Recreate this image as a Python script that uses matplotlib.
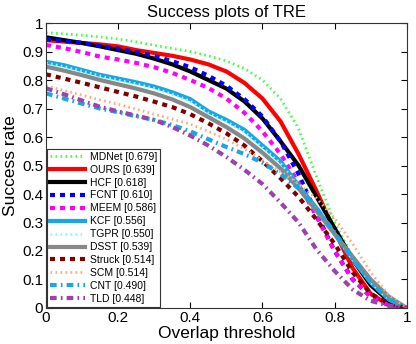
import matplotlib.pyplot as plt
import numpy as np

plt.rcParams["font.family"] = ["Liberation Sans", "DejaVu Sans"]

thresholds = np.linspace(0, 1, 21)

mdnet = [0.966, 0.962, 0.957, 0.951, 0.944, 0.934, 0.922, 0.911, 0.900, 0.885, 0.867,
         0.840, 0.800, 0.735, 0.630, 0.460, 0.300, 0.180, 0.090, 0.030, 0.0]
ours = [0.940, 0.935, 0.930, 0.925, 0.918, 0.905, 0.895, 0.885, 0.872, 0.855, 0.830,
        0.790, 0.735, 0.655, 0.540, 0.410, 0.270, 0.140, 0.050, 0.010, 0.0]
hcf = [0.950, 0.940, 0.930, 0.918, 0.905, 0.892, 0.875, 0.855, 0.830, 0.800, 0.770,
       0.725, 0.665, 0.585, 0.500, 0.390, 0.280, 0.170, 0.080, 0.025, 0.0]
fcnt = [0.943, 0.937, 0.930, 0.920, 0.910, 0.898, 0.885, 0.866, 0.845, 0.815, 0.780,
        0.733, 0.672, 0.585, 0.470, 0.330, 0.200, 0.100, 0.040, 0.010, 0.0]
meem = [0.923, 0.912, 0.898, 0.882, 0.872, 0.860, 0.845, 0.825, 0.800, 0.772, 0.735,
        0.685, 0.620, 0.540, 0.440, 0.320, 0.200, 0.100, 0.040, 0.010, 0.0]
kcf = [0.864, 0.852, 0.835, 0.818, 0.805, 0.792, 0.777, 0.757, 0.733, 0.690, 0.660,
       0.625, 0.570, 0.515, 0.430, 0.350, 0.260, 0.170, 0.090, 0.030, 0.0]
tgpr = [0.860, 0.847, 0.831, 0.814, 0.800, 0.787, 0.771, 0.750, 0.726, 0.684, 0.654,
        0.618, 0.563, 0.508, 0.425, 0.345, 0.258, 0.170, 0.090, 0.030, 0.0]
dsst = [0.847, 0.833, 0.817, 0.800, 0.785, 0.770, 0.753, 0.732, 0.705, 0.670, 0.635,
        0.595, 0.545, 0.490, 0.420, 0.340, 0.260, 0.180, 0.100, 0.040, 0.0]
struck = [0.820, 0.805, 0.790, 0.774, 0.758, 0.742, 0.724, 0.705, 0.680, 0.648, 0.613,
          0.570, 0.515, 0.455, 0.390, 0.310, 0.225, 0.125, 0.050, 0.015, 0.0]
scm = [0.780, 0.763, 0.747, 0.730, 0.715, 0.698, 0.680, 0.663, 0.645, 0.620, 0.592,
       0.558, 0.518, 0.478, 0.435, 0.385, 0.315, 0.225, 0.125, 0.045, 0.0]
cnt = [0.753, 0.735, 0.717, 0.700, 0.687, 0.673, 0.660, 0.642, 0.620, 0.592, 0.565,
       0.540, 0.510, 0.470, 0.420, 0.350, 0.265, 0.175, 0.090, 0.030, 0.0]
tld = [0.771, 0.750, 0.728, 0.706, 0.690, 0.675, 0.660, 0.635, 0.605, 0.570, 0.530,
       0.485, 0.435, 0.370, 0.300, 0.205, 0.130, 0.065, 0.025, 0.008, 0.0]

labels = ["MDNet [0.679]", "OURS [0.639]", "HCF [0.618]", "FCNT [0.610]",
          "MEEM [0.586]", "KCF [0.556]", "TGPR [0.550]", "DSST [0.539]",
          "Struck [0.514]", "SCM [0.514]", "CNT [0.490]", "TLD [0.448]"]
series = [mdnet, ours, hcf, fcnt, meem, kcf, tgpr, dsst, struck, scm, cnt, tld]

styles = [
    dict(color="#44ff44", lw=2, ls=(0, (0.6, 1.2))),
    dict(color="#ff0000", lw=3, ls="-"),
    dict(color="#000000", lw=3, ls="-"),
    dict(color="#0000ff", lw=3, ls=(0, (1.2, 1.2))),
    dict(color="#ff00ff", lw=3, ls=(0, (1.2, 1.2))),
    dict(color="#1ba6e3", lw=3, ls="-"),
    dict(color="#80ffff", lw=2, ls=(0, (0.6, 1.2))),
    dict(color="#888888", lw=3, ls="-"),
    dict(color="#800000", lw=3, ls=(0, (1.2, 1.2))),
    dict(color="#ffaa77", lw=2, ls=(0, (0.6, 1.2))),
    dict(color="#1ba6e3", lw=3, ls=(0, (1.6, 1.0, 0.4, 1.0))),
    dict(color="#9944aa", lw=3, ls=(0, (1.6, 1.0, 0.4, 1.0))),
]

fig = plt.figure(figsize=(4.16, 3.44), dpi=100)
ax = fig.add_axes([0.1106, 0.1047, 0.8672, 0.8283])

for vals, lab, st in zip(series, labels, styles):
    ax.plot(thresholds, vals, label=lab, **st)

ax.set_xlim(0, 1)
ax.set_ylim(0, 1)
ax.set_xticks(np.arange(0, 1.01, 0.2))
ax.set_xticklabels(["0", "0.2", "0.4", "0.6", "0.8", "1"])
ax.set_yticks(np.arange(0, 1.01, 0.1))
ax.set_yticklabels(["0", "0.1", "0.2", "0.3", "0.4", "0.5", "0.6", "0.7", "0.8", "0.9", "1"])
ax.tick_params(direction="in", top=True, right=True, labelsize=11, length=4, pad=2)
for sp in ax.spines.values():
    sp.set_linewidth(0.8)
    sp.set_color("#333333")

ax.set_title("Success plots of TRE", fontsize=12, pad=4)
ax.set_xlabel("Overlap threshold", fontsize=12.5, labelpad=1)
ax.set_ylabel("Success rate", fontsize=12.5, labelpad=3)

leg = ax.legend(loc="lower left", fontsize=7.5, handlelength=3.3, labelspacing=0.28,
                borderaxespad=0.1, borderpad=0.3, handletextpad=0.5,
                fancybox=False, framealpha=1, edgecolor="#333333")
leg.get_frame().set_linewidth(0.8)

fig.savefig("out.png", dpi=100)
